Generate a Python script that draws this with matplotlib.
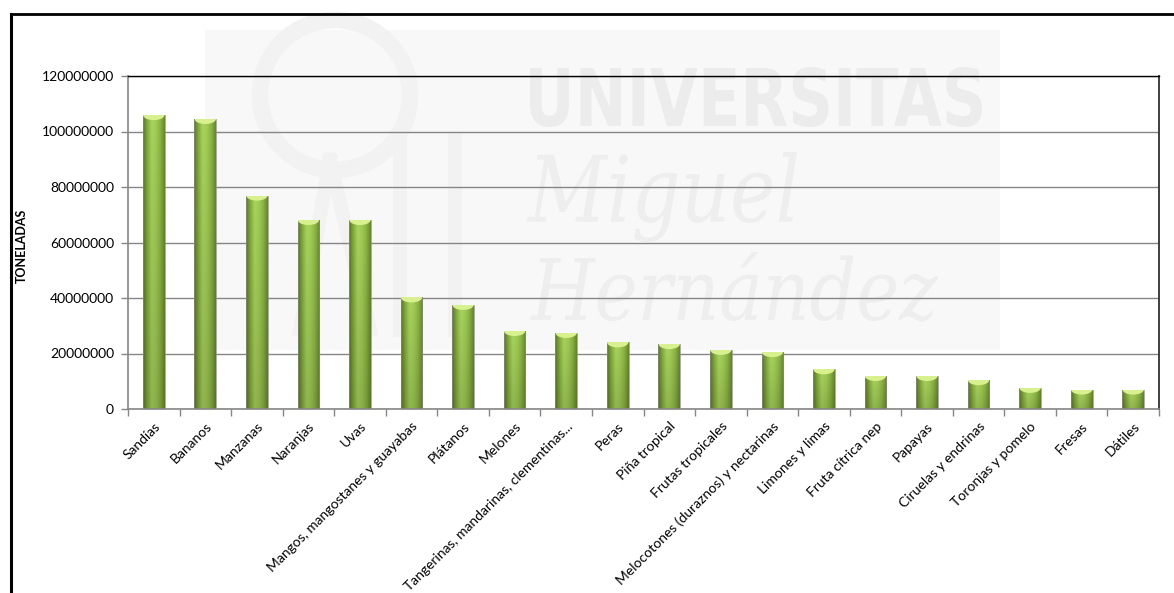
import matplotlib.pyplot as plt
import numpy as np
from matplotlib.colors import LinearSegmentedColormap
from matplotlib.patches import Ellipse, Rectangle, Arc, PathPatch
from matplotlib.lines import Line2D
from matplotlib.ticker import FuncFormatter
from matplotlib.textpath import TextPath
from matplotlib.font_manager import FontProperties
from matplotlib.transforms import Affine2D

# Producción mundial de frutas (toneladas)
frutas = ['Sandías', 'Bananos', 'Manzanas', 'Naranjas', 'Uvas',
          'Mangos, mangostanes y guayabas', 'Plátanos', 'Melones',
          'Tangerinas, mandarinas, clementinas...', 'Peras', 'Piña tropical',
          'Frutas tropicales', 'Melocotones (duraznos) y nectarinas',
          'Limones y limas', 'Fruta cítrica nep', 'Papayas',
          'Ciruelas y endrinas', 'Toronjas y pomelo', 'Fresas', 'Dátiles']
toneladas = [105900000, 104500000, 76900000, 68100000, 68100000,
             40200000, 37500000, 28100000, 27400000, 24000000, 23400000,
             21300000, 20500000, 14300000, 11900000, 11900000,
             10400000, 7600000, 7000000, 7000000]
y_ticks = [0, 20000000, 40000000, 60000000, 80000000, 100000000, 120000000]

plt.rcParams['font.family'] = ['Lato', 'DejaVu Sans']

W, H = 1174, 593
fig = plt.figure(figsize=(W / 100, H / 100), dpi=100)


def fx(x):
    return x / W


def fy(y):
    return 1 - y / H


def texto_en_caja(s, x0, y0, x1, y1, prop, color):
    # texto como trazo, estirado para ocupar la caja (en píxeles)
    tp = TextPath((0, 0), s, size=100, prop=prop)
    bb = tp.get_extents()
    tr = (Affine2D().translate(-bb.x0, -bb.y0)
          .scale((x1 - x0) / bb.width, (y1 - y0) / bb.height)
          .translate(x0, H - y1))
    fig.add_artist(PathPatch(tp, transform=tr, facecolor=color, edgecolor='none', zorder=-1))


# marca de agua de la universidad, detrás del gráfico
fig.add_artist(Rectangle((fx(205), fy(350)), 795 / W, 320 / H, transform=fig.transFigure,
                         facecolor='#f8f8f8', edgecolor='none', zorder=-3))
fig.add_artist(Arc((fx(335), fy(95)), 150 / W, 150 / H, theta1=0, theta2=360,
                   transform=fig.transFigure, color='#f2f2f2', lw=12, zorder=-2))
for xs, ys in [([300, 330], [330, 160]), ([330, 370], [160, 330]), ([400, 400], [140, 330]),
               ([455, 455], [140, 330])]:
    fig.add_artist(Line2D([fx(v) for v in xs], [fy(v) for v in ys], transform=fig.transFigure,
                          color='#f2f2f2', lw=10, zorder=-2))
texto_en_caja('UNIVERSITAS', 530, 67, 982, 127,
              FontProperties(family='DejaVu Sans', weight='bold'), '#ececec')
texto_en_caja('Miguel', 527, 152, 797, 242,
              FontProperties(family='DejaVu Serif', style='italic'), '#eeeeee')
texto_en_caja('Hernández', 530, 252, 938, 322,
              FontProperties(family='DejaVu Serif', style='italic'), '#eeeeee')

ax = fig.add_axes([fx(128), fy(409), (1159 - 128) / W, (409 - 76) / H])
ax.set_facecolor('none')

x = np.arange(len(frutas))
bars = ax.bar(x, toneladas, width=0.42, color='none', edgecolor='#8c8c8c',
              linewidth=0.5, zorder=3)

# sombreado cilíndrico de las barras
verde = LinearSegmentedColormap.from_list(
    'cilindro', ['#5a7822', '#84ad3d', '#a8d45d', '#a0cb55', '#8ab342', '#66872b'])
perfil = verde(np.linspace(0, 1, 64))[:, :3]
altura = np.linspace(0.86, 1.0, 60)[:, None, None]
img = np.clip(perfil[None, :, :] * altura, 0, 1)

for b in bars:
    x0, w, h = b.get_x(), b.get_width(), b.get_height()
    im = ax.imshow(img, extent=[x0, x0 + w, 0, h], origin='lower', aspect='auto',
                   interpolation='bilinear', zorder=2.5)
    im.set_clip_path(b)
    tapa = Ellipse((x0 + w / 2, h), w * 0.98, 3.6e6, facecolor='#d8f08e',
                   edgecolor='none', zorder=3.2)
    ax.add_patch(tapa)
    tapa.set_clip_path(b)

ax.set_xlim(-0.5, len(frutas) - 0.5)
ax.set_ylim(0, 120000000)
ax.set_yticks(y_ticks)
ax.yaxis.set_major_formatter(FuncFormatter(lambda v, p: f'{int(v)}'))
ax.set_xticks(x)
ax.set_xticklabels(frutas, rotation=45, ha='right', va='top', rotation_mode='anchor', fontsize=10)
ax.set_xticks(np.arange(len(frutas) + 1) - 0.5, minor=True)
ax.tick_params(axis='x', which='major', length=0, pad=8)
ax.tick_params(axis='x', which='minor', length=5, color='#868686', width=1)
ax.tick_params(axis='y', length=5, color='#868686', width=1, labelsize=10, pad=5)

ax.set_axisbelow(True)
ax.yaxis.grid(True, color='#868686', lw=1)

ax.spines['left'].set_color('#868686')
ax.spines['bottom'].set_color('#868686')
ax.spines['left'].set_linewidth(1.2)
ax.spines['bottom'].set_linewidth(1.2)
ax.spines['top'].set_color('black')
ax.spines['top'].set_linewidth(1)
ax.spines['right'].set_color('#303030')
ax.spines['right'].set_linewidth(1.3)

ax.set_ylabel('TONELADAS', fontweight='bold', fontsize=9)
ax.yaxis.set_label_coords(-0.097, 0.49)

# marco negro del gráfico
fig.add_artist(Line2D([fx(11), fx(11)], [0, fy(14)], color='black', lw=2.2,
                      solid_capstyle='projecting', transform=fig.transFigure))
fig.add_artist(Line2D([fx(11), 1], [fy(14), fy(14)], color='black', lw=2.0,
                      solid_capstyle='projecting', transform=fig.transFigure))

plt.savefig('out.png', dpi=100)
